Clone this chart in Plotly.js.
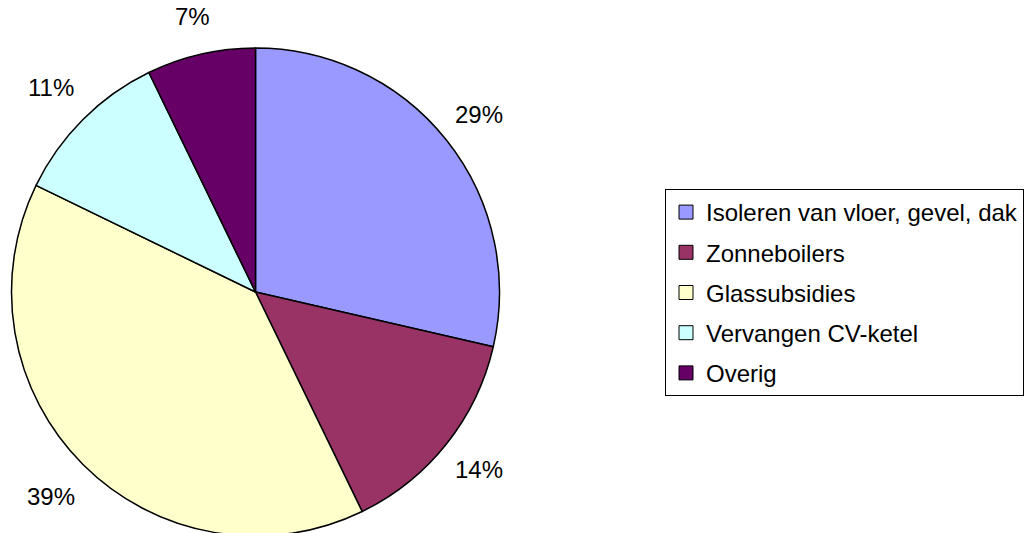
<!DOCTYPE html>
<html>
<head>
<meta charset="utf-8">
<script src="https://cdn.plot.ly/plotly-3.0.1.min.js"></script>
<style>
html, body { margin: 0; padding: 0; background: #fff; overflow: hidden; }
#chart { width: 1031px; height: 539px; }
</style>
</head>
<body>
<div id="chart"></div>
<script>
// Data
const categories = ["Isoleren van vloer, gevel, dak", "Zonneboilers", "Glassubsidies", "Vervangen CV-ketel", "Overig"];
const shares = [28.6, 14.2, 39.4, 10.6, 7.2];
const sliceColors = ["#9999FF", "#993366", "#FFFFCC", "#CCFFFF", "#660066"];

// Layout geometry
const W = 1031, H = 539;
const CX = 255.5, CY = 292, R = 244;
const FONT = "Liberation Sans, Arial, Helvetica, sans-serif";
const FS = 24;

const total = shares.reduce((a, b) => a + b, 0);

const cv = document.createElement("canvas").getContext("2d");
cv.font = FS + "px 'Liberation Sans', Arial";

// percentage labels outside each slice
const annotations = [];
let cum = 0;
shares.forEach((v) => {
  const mid = (cum + v / 2) / total;
  cum += v;
  const ang = mid * 2 * Math.PI; // clockwise from 12 o'clock
  const s = Math.sin(ang), c = Math.cos(ang);
  const txt = Math.round(v / total * 100) + "%";
  const halfW = cv.measureText(txt).width / 2 + 2;
  const d = R + 4 + Math.abs(s) * halfW + Math.abs(c) * 28 + (s < 0 ? 3 : 0);
  const px = CX + s * d;
  const py = CY - c * d;
  annotations.push({
    text: txt, showarrow: false,
    xref: "paper", yref: "paper",
    x: px / W, y: 1 - py / H,
    xanchor: "center", yanchor: "middle",
    font: { family: FONT, size: FS, color: "#000" }
  });
});

const pie = {
  type: "pie",
  labels: categories,
  values: shares,
  sort: false,
  direction: "clockwise",
  rotation: 0,
  showlegend: false,
  marker: { colors: sliceColors, line: { color: "#000", width: 1.5 } },
  textinfo: "none",
  hoverinfo: "none",
  domain: { x: [(CX - R) / W, (CX + R) / W], y: [(H - CY - R) / H, (H - CY + R) / H] }
};

// legend entries (one per category, nothing plotted)
const legendTraces = categories.map((name, i) => ({
  type: "scatter", mode: "markers",
  x: [null], y: [null],
  name: name, legendgroup: name, showlegend: true,
  marker: { symbol: "square", size: 14, color: sliceColors[i], line: { color: "#000", width: 1 } },
  hoverinfo: "none"
}));

const layout = {
  width: W, height: H,
  margin: { l: 0, r: 0, t: 0, b: 0, pad: 0 },
  paper_bgcolor: "#fff",
  plot_bgcolor: "rgba(0,0,0,0)",
  xaxis: { visible: false, showgrid: false, zeroline: false },
  yaxis: { visible: false, showgrid: false, zeroline: false },
  showlegend: true,
  legend: {
    x: 665 / W, y: 1 - 189 / H, xanchor: "left", yanchor: "top",
    bordercolor: "#000", borderwidth: 1, bgcolor: "#fff",
    traceorder: "grouped", tracegroupgap: 6,
    font: { family: FONT, size: FS, color: "#000" },
    itemclick: false, itemdoubleclick: false
  },
  annotations: annotations
};

Plotly.newPlot("chart", [pie, ...legendTraces], layout, { displayModeBar: false, staticPlot: true });
</script>
</body>
</html>
